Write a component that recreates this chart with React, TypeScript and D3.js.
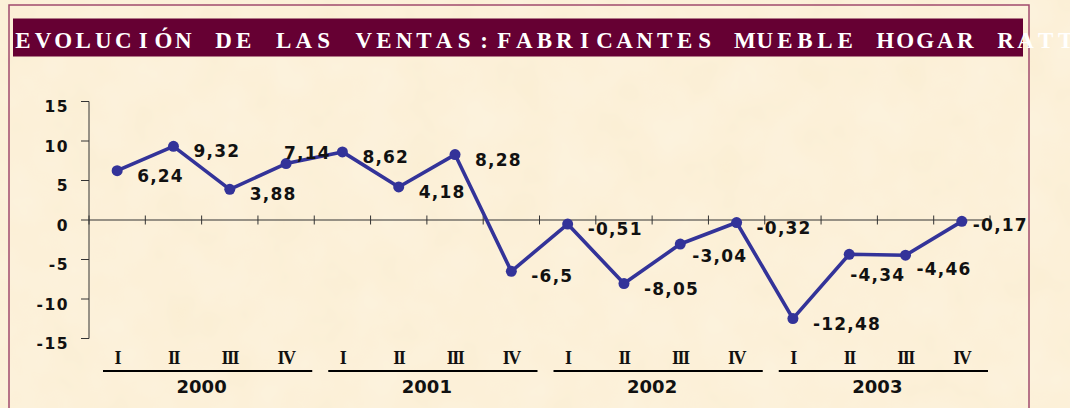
import React, { useRef, useEffect } from 'react';
import * as d3 from 'd3';

const TITLE = 'EVOLUCIÓN DE LAS VENTAS:FABRICANTES MUEBLE HOGAR RATTAN';
const years: string[] = ['2000', '2001', '2002', '2003'];
const quarters: string[] = ['I', 'II', 'III', 'IV'];
const values: number[] = [
  6.24, 9.32, 3.88, 7.14,
  8.62, 4.18, 8.28, -6.5,
  -0.51, -8.05, -3.04, -0.32,
  -12.48, -4.34, -4.46, -0.17,
];
const yTicks: number[] = [15, 10, 5, 0, -5, -10, -15];

const W = 1070;
const H = 408;

const App = () => {
  const svgRef = useRef<SVGSVGElement>(null);

  useEffect(() => {
    const svg = d3.select(svgRef.current);
    svg.selectAll('*').remove();

    // parchment background
    const defs = svg.append('defs');
    const f = defs.append('filter').attr('id', 'paper').attr('x', 0).attr('y', 0).attr('width', '100%').attr('height', '100%');
    f.append('feTurbulence').attr('type', 'fractalNoise').attr('baseFrequency', '0.02').attr('numOctaves', 3).attr('seed', 4);
    f.append('feColorMatrix').attr('values', '0 0 0 0 1  0 0 0 0 0.97  0 0 0 0 0.9  0 0 0 0.35 0');
    f.append('feComposite').attr('in2', 'SourceGraphic').attr('operator', 'in');

    svg.append('rect').attr('width', W).attr('height', H).attr('fill', '#fbeed3');
    svg.append('rect').attr('width', W).attr('height', H).attr('fill', '#000').attr('filter', 'url(#paper)');

    // frame
    svg.append('rect')
      .attr('x', 9).attr('y', 5).attr('width', 1020).attr('height', 440)
      .attr('fill', 'none').attr('stroke', '#a04a6c').attr('stroke-width', 1.5);

    // title bar, letters set on a fixed pitch like the original
    svg.append('rect')
      .attr('x', 13).attr('y', 18.5).attr('width', 1010).attr('height', 38)
      .attr('fill', '#660033');
    const chars = Array.from(TITLE);
    svg.append('text')
      .attr('x', chars.map((_, i) => 23 + i * 20.05).join(' '))
      .attr('y', 47.5)
      .attr('text-anchor', 'middle')
      .attr('font-family', '"Liberation Serif", serif')
      .attr('font-weight', 'bold')
      .attr('font-size', 23)
      .attr('fill', '#ffffff')
      .text(TITLE);

    const categories = d3.range(values.length);
    const x = d3.scaleBand<number>().domain(categories).range([89, 990]);
    const y = d3.scaleLinear().domain([-15, 15]).range([338.5, 101.5]);
    const bw = x.bandwidth();

    // y axis
    const gy = svg.append('g');
    gy.append('line')
      .attr('x1', 89).attr('x2', 89).attr('y1', y(15)).attr('y2', y(-15))
      .attr('stroke', '#333').attr('stroke-width', 1);
    gy.selectAll('line.tk').data(yTicks).join('line')
      .attr('class', 'tk')
      .attr('x1', 81).attr('x2', 89).attr('y1', d => y(d)).attr('y2', d => y(d))
      .attr('stroke', '#333').attr('stroke-width', 1);
    gy.selectAll('text').data(yTicks).join('text')
      .attr('x', 69).attr('y', d => y(d) + 10.5)
      .attr('text-anchor', 'end')
      .attr('font-family', '"DejaVu Sans", sans-serif')
      .attr('font-weight', 'bold')
      .attr('font-size', 15.5)
      .attr('letter-spacing', 1.5)
      .attr('fill', '#111')
      .text(d => String(d));

    // x axis on zero with crossing ticks
    const gx = svg.append('g');
    gx.append('line')
      .attr('x1', 89).attr('x2', 990).attr('y1', y(0)).attr('y2', y(0))
      .attr('stroke', '#333').attr('stroke-width', 1);
    gx.selectAll('line.tk').data(d3.range(values.length + 1)).join('line')
      .attr('class', 'tk')
      .attr('x1', i => 89 + i * bw).attr('x2', i => 89 + i * bw)
      .attr('y1', y(0) - 4.5).attr('y2', y(0) + 4.5)
      .attr('stroke', '#333').attr('stroke-width', 1);

    // quarter labels
    svg.append('g').selectAll('text').data(categories).join('text')
      .attr('x', i => (x(i) as number) + bw / 2)
      .attr('y', 364)
      .attr('text-anchor', 'middle')
      .attr('font-family', '"Liberation Serif", serif')
      .attr('font-weight', 'bold')
      .attr('font-size', 18)
      .attr('letter-spacing', -1.5)
      .attr('fill', '#111')
      .text(i => quarters[i % 4]);

    // year groups
    const gYear = svg.append('g').selectAll('g').data(years).join('g');
    gYear.append('line')
      .attr('x1', (_, j) => (x(j * 4) as number) + 14)
      .attr('x2', (_, j) => (x(j * 4 + 3) as number) + bw - 2)
      .attr('y1', 371).attr('y2', 371)
      .attr('stroke', '#000').attr('stroke-width', 2);
    gYear.append('text')
      .attr('x', (_, j) => (x(j * 4) as number) + bw * 2)
      .attr('y', 393)
      .attr('text-anchor', 'middle')
      .attr('font-family', '"DejaVu Sans", sans-serif')
      .attr('font-weight', 'bold')
      .attr('font-size', 18)
      .attr('fill', '#111')
      .text(d => d);

    // series line + markers
    const cx = (i: number) => (x(i) as number) + bw / 2;
    const line = d3.line<number>().x((_, i) => cx(i)).y(d => y(d));
    svg.append('path')
      .datum(values)
      .attr('d', line)
      .attr('fill', 'none')
      .attr('stroke', '#333399')
      .attr('stroke-width', 3.6)
      .attr('stroke-linejoin', 'round');
    svg.append('g').selectAll('circle').data(values).join('circle')
      .attr('cx', (_, i) => cx(i))
      .attr('cy', d => y(d))
      .attr('r', 5.5)
      .attr('fill', '#333399');

    // data labels (default right of the point, a few nudged as in the original)
    const nudge: Record<number, [number, number]> = {
      3: [-2, -11],
      10: [12, 12],
      13: [1, 21],
      14: [11, 14],
      15: [11, 4],
    };
    svg.append('g').selectAll('text').data(values).join('text')
      .attr('x', (_, i) => cx(i) + (nudge[i] ? nudge[i][0] : 20))
      .attr('y', (d, i) => y(d) + (nudge[i] ? nudge[i][1] : 5) + 6)
      .attr('font-family', '"DejaVu Sans", sans-serif')
      .attr('font-weight', 'bold')
      .attr('font-size', 17)
      .attr('letter-spacing', 1.2)
      .attr('fill', '#111')
      .text(d => String(d).replace('.', ','));
  }, []);

  return (
    <div style={{ position: 'fixed', left: 0, top: 0 }}>
      <svg ref={svgRef} width={W} height={H} style={{ display: 'block' }}></svg>
    </div>
  );
};

export default App;
